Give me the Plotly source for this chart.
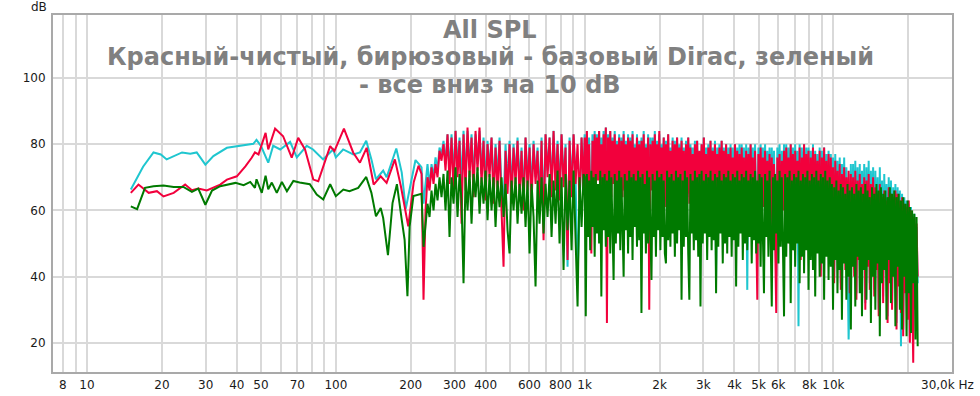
import numpy as np
import plotly.graph_objects as go

# ---------------- data ----------------
# Low-frequency (smooth) part
cyan_low_f = [15, 16.8, 18.5, 19.8, 20.9, 22.3, 24.1, 26, 27.6, 29.9, 32.2, 36.5, 41.3, 46.6, 48, 50,
              53.5, 56, 59.8, 65.5, 69.7, 76.4, 81, 88.9, 97.5, 100, 107, 117.5, 125, 132.5, 139, 145,
              155, 160, 175, 184, 191, 198, 209, 218]
cyan_low_db = [66.3, 73.2, 77.5, 76.9, 75.4, 76.4, 77.5, 77.1, 77.5, 73.8, 76.4, 78.9, 79.6, 80.1, 81.3, 79.5,
               74.4, 79.5, 78.4, 80.7, 76.0, 79.5, 78.4, 75.4, 78.4, 76.0, 78.4, 76.9, 77.5, 81.0, 75.4, 69.4,
               72.0, 70.0, 78.7, 71.5, 60.5, 66.0, 75.2, 73.6]

red_low_f = [15, 16.1, 17.7, 19.1, 20.3, 22.3, 24.8, 26.4, 28, 30.3, 34.3, 36.5, 40, 43.3, 45.9, 47.3,
             48.9, 52.2, 53.5, 57, 61.4, 66.5, 70.6, 75.2, 81.2, 85, 94.9, 98.7, 107.8, 117.4, 125, 133,
             141.9, 151.5, 160, 172.7, 182.6, 190, 195.5, 205.6, 215]
red_low_db = [65.3, 67.8, 65.3, 65.8, 64.2, 65.3, 67.8, 66.1, 66.6, 66.0, 67.8, 69.3, 70.3, 73.3, 75.9, 77.5,
              76.9, 83.4, 78.4, 84.7, 82.4, 75.9, 81.9, 78.4, 69.3, 68.8, 79.4, 77.9, 84.7, 77.5, 74.4, 78.9,
              67.8, 70.3, 68.3, 75.4, 67.3, 60.2, 55.2, 68.5, 73.5]

green_low_f = [15, 15.9, 17.1, 18.5, 20.3, 22.3, 24.4, 26.4, 28, 29.9, 31.8, 34.3, 39.5, 42.6, 45.3, 47.3,
               48, 50.4, 52.2, 53.5, 55.3, 57.9, 60.7, 63.6, 67.5, 71.5, 78.6, 83.8, 89, 94.9, 100, 107.2,
               113.4, 123, 132.5, 139, 145, 151.5, 155, 162, 169, 176, 184, 189, 194, 198, 205, 218]
green_low_db = [61.2, 60.4, 66.8, 67.3, 67.5, 67.1, 67.1, 65.6, 66.6, 61.7, 66.0, 67.3, 68.3, 67.6, 68.6, 66.8,
                69.4, 65.3, 70.5, 66.4, 68.4, 65.3, 68.6, 65.8, 68.9, 68.4, 67.9, 64.8, 63.3, 67.9, 64.3, 66.3,
                65.8, 66.8, 70.1, 65.3, 58.2, 60.7, 57.7, 46.5, 62.2, 67.9, 57.2, 51.1, 34.1, 55.2, 64.3, 64.8]

# Mid band readings (82 per curve), 221 Hz .. 990 Hz
mid_start, mid_stop = 221, 990
red_mid_db = [
    71, 33, 60, 70, 66, 73, 68, 74, 70, 78,
    75, 80, 72, 83, 68, 82, 65, 84, 70, 81,
    56, 83, 66, 85, 70, 82, 64, 84, 72, 85,
    68, 81, 63, 80, 70, 82, 62, 79, 66, 81,
    60, 43, 78, 65, 80, 62, 79, 68, 81, 64,
    78, 60, 82, 66, 79, 62, 80, 68, 78, 59,
    81, 51, 83, 70, 82, 64, 84, 66, 80, 63,
    83, 67, 79, 45, 81, 64, 83, 68, 80, 62,
    82, 65,
]
cyan_mid_db = [
    73, 62, 69, 74, 67, 74, 70, 76, 72, 79,
    77, 81, 74, 83, 72, 83, 70, 84, 73, 82,
    68, 84, 70, 84, 73, 83, 69, 83, 74, 84,
    71, 82, 68, 81, 72, 82, 67, 80, 70, 82,
    66, 62, 80, 68, 81, 66, 80, 70, 82, 68,
    79, 64, 82, 69, 80, 66, 81, 70, 79, 63,
    82, 58, 83, 72, 82, 67, 84, 69, 81, 66,
    83, 69, 80, 43, 82, 67, 83, 70, 40, 65,
    82, 68,
]
green_mid_db = [
    65, 49, 55, 62, 58, 66, 60, 68, 63, 70,
    64, 71, 60, 72, 52, 70, 62, 73, 58, 71,
    63, 38, 70, 60, 72, 56, 71, 64, 73, 59,
    70, 62, 72, 57, 71, 60, 70, 55, 69, 61,
    70, 58, 68, 54, 47, 69, 60, 70, 56, 68,
    59, 70, 55, 69, 47, 68, 58, 37, 69, 56,
    70, 53, 68, 58, 71, 52, 69, 56, 72, 50,
    70, 42, 71, 54, 69, 48, 72, 52, 31, 70,
    55, 71,
]

# High band readings (300 per curve), 1 kHz .. 21.8 kHz
hi_start, hi_stop = 1000, 21800
red_hi_db = [
    82, 66, 84, 68, 80, 64, 47, 81, 67, 83, 65, 82, 69, 84, 63, 80, 66, 83, 68, 85,
    26, 82, 66, 84, 64, 81, 68, 83, 65, 80, 67, 82, 56, 81, 64, 83, 66, 80, 63, 82,
    67, 81, 64, 83, 66, 79, 63, 82, 68, 80, 65, 81, 62, 83, 66, 79, 64, 82, 30, 80,
    66, 81, 63, 83, 67, 80, 62, 84, 65, 79, 64, 82, 61, 80, 66, 83, 63, 78, 65, 81,
    62, 80, 66, 82, 60, 79, 64, 81, 63, 78, 58, 80, 65, 82, 62, 79, 64, 77, 61, 80,
    63, 81, 60, 78, 65, 80, 59, 82, 63, 77, 61, 79, 64, 81, 58, 78, 62, 80, 60, 77,
    64, 79, 57, 81, 62, 78, 60, 80, 55, 77, 63, 79, 59, 76, 61, 80, 56, 78, 62, 77,
    58, 79, 61, 76, 54, 78, 60, 77, 57, 80, 62, 76, 55, 78, 59, 33, 77, 60, 79, 56,
    76, 61, 78, 57, 75, 60, 77, 52, 76, 58, 74, 55, 29, 76, 59, 77, 53, 75, 60, 78,
    55, 79, 58, 76, 50, 80, 57, 77, 48, 78, 59, 75, 53, 79, 45, 76, 56, 80, 51, 77,
    57, 78, 46, 76, 54, 79, 42, 77, 55, 75, 50, 78, 40, 76, 53, 79, 47, 75, 52, 77,
    44, 76, 51, 73, 38, 75, 49, 72, 45, 74, 36, 71, 50, 73, 42, 70, 48, 72, 35, 71,
    46, 70, 40, 72, 33, 69, 45, 71, 38, 68, 48, 70, 30, 69, 43, 71, 36, 68, 44, 70,
    34, 67, 42, 65, 28, 68, 40, 64, 32, 66, 45, 63, 26, 67, 38, 65, 30, 64, 41, 66,
    24, 65, 37, 63, 29, 64, 22, 62, 35, 61, 27, 63, 20, 60, 33, 14, 58, 30, 56, 40,
]
cyan_hi_db = [
    83, 68, 84, 70, 82, 66, 60, 83, 69, 84, 67, 83, 70, 84, 65, 82, 68, 84, 70, 85,
    50, 83, 68, 84, 66, 82, 70, 84, 67, 81, 69, 83, 62, 82, 66, 84, 68, 81, 65, 83,
    69, 82, 66, 84, 68, 80, 65, 83, 70, 81, 67, 82, 64, 84, 68, 80, 66, 83, 45, 82,
    68, 82, 65, 84, 69, 81, 64, 83, 67, 80, 66, 82, 63, 81, 68, 83, 65, 79, 67, 82,
    64, 81, 68, 82, 62, 80, 66, 82, 65, 79, 60, 81, 67, 82, 64, 80, 66, 79, 63, 81,
    65, 81, 62, 52, 67, 80, 61, 82, 65, 79, 63, 80, 66, 81, 60, 79, 64, 81, 40, 79,
    66, 80, 59, 81, 64, 79, 62, 80, 57, 79, 65, 80, 61, 79, 63, 80, 58, 79, 64, 80,
    60, 80, 63, 79, 56, 80, 36, 79, 59, 80, 64, 79, 57, 80, 61, 45, 79, 62, 80, 58,
    79, 63, 80, 59, 78, 62, 79, 55, 79, 60, 78, 57, 40, 79, 61, 80, 55, 78, 62, 80,
    57, 80, 60, 79, 53, 80, 59, 79, 50, 80, 61, 78, 25, 80, 48, 79, 58, 80, 53, 79,
    59, 79, 48, 78, 56, 80, 44, 78, 57, 77, 52, 79, 42, 78, 55, 79, 49, 77, 54, 78,
    46, 77, 53, 76, 40, 77, 51, 75, 47, 76, 38, 74, 52, 76, 44, 73, 50, 21, 37, 74,
    48, 74, 42, 75, 35, 73, 47, 74, 40, 72, 50, 74, 32, 73, 45, 75, 38, 72, 46, 73,
    36, 72, 44, 70, 30, 73, 42, 69, 34, 71, 47, 68, 28, 70, 40, 69, 32, 67, 43, 68,
    26, 67, 39, 66, 19, 65, 24, 64, 37, 63, 29, 62, 22, 61, 35, 30, 59, 32, 55, 38,
]
green_hi_db = [
    70, 28, 71, 52, 69, 48, 72, 55, 70, 46, 71, 53, 68, 50, 72, 34, 70, 54, 71, 49,
    69, 52, 72, 47, 70, 55, 39, 71, 50, 69, 53, 72, 48, 70, 51, 40, 71, 54, 69, 47,
    72, 52, 70, 45, 71, 55, 69, 49, 72, 51, 70, 29, 71, 53, 68, 47, 72, 50, 70, 54,
    39, 71, 52, 69, 46, 72, 54, 70, 48, 71, 52, 69, 47, 44, 72, 51, 70, 49, 71, 53,
    69, 46, 72, 50, 70, 54, 71, 33, 69, 49, 72, 52, 70, 47, 33, 71, 53, 69, 48, 72,
    51, 70, 46, 71, 31, 72, 50, 69, 53, 71, 45, 70, 52, 72, 48, 69, 51, 71, 35, 70,
    49, 72, 53, 69, 44, 71, 50, 70, 47, 72, 52, 69, 46, 71, 51, 70, 37, 72, 49, 69,
    53, 71, 45, 70, 50, 72, 48, 69, 52, 71, 44, 70, 51, 72, 47, 69, 50, 71, 43, 70,
    49, 35, 71, 52, 69, 46, 72, 50, 31, 70, 48, 71, 53, 69, 44, 72, 49, 70, 51, 28,
    71, 46, 70, 50, 72, 32, 69, 48, 71, 43, 70, 50, 72, 38, 69, 46, 71, 41, 70, 48,
    72, 36, 69, 45, 71, 42, 70, 34, 72, 47, 69, 40, 71, 44, 70, 33, 72, 46, 69, 39,
    70, 43, 68, 30, 67, 45, 69, 35, 66, 42, 68, 27, 67, 44, 65, 33, 68, 40, 66, 24,
    67, 43, 65, 31, 68, 46, 66, 35, 67, 28, 65, 42, 68, 33, 66, 45, 64, 26, 67, 40,
    65, 30, 68, 44, 66, 22, 67, 38, 65, 42, 66, 27, 64, 45, 67, 32, 65, 40, 66, 25,
    64, 43, 65, 30, 63, 24, 64, 40, 62, 22, 63, 35, 61, 23, 60, 38, 59, 21, 58, 19,
]

x_tick_vals = [8, 9, 10, 20, 30, 40, 50, 60, 70, 80, 90, 100, 200, 300, 400, 500, 600, 700, 800, 900,
               1000, 2000, 3000, 4000, 5000, 6000, 7000, 8000, 9000, 10000, 20000]
x_tick_text = ["8", "", "10", "20", "30", "40", "50", "", "70", "", "", "100", "200", "300", "400", "",
               "600", "", "800", "", "1k", "2k", "3k", "4k", "5k", "6k", "", "8k", "", "10k", ""]
y_tick_vals = [20, 40, 60, 80, 100]

title_lines = ["All SPL",
               "Красный-чистый, бирюзовый - базовый Dirac, зеленый",
               "- все вниз на 10 dB"]

# ---------------- build ----------------
def full_curve(low_f, low_db, mid_db, hi_db):
    mid_f = np.geomspace(mid_start, mid_stop, len(mid_db))
    hi_f = np.geomspace(hi_start, hi_stop, len(hi_db))
    fx = list(low_f) + list(mid_f) + list(hi_f)
    fy = list(low_db) + list(mid_db) + list(hi_db)
    return fx, fy

series = [
    ("бирюзовый", cyan_low_f, cyan_low_db, cyan_mid_db, cyan_hi_db, "#1fc6cf"),
    ("красный", red_low_f, red_low_db, red_mid_db, red_hi_db, "#f2003c"),
    ("зеленый", green_low_f, green_low_db, green_mid_db, green_hi_db, "#007a00"),
]

fig = go.Figure()
for name, lf, ld, md, hd, col in series:
    fx, fy = full_curve(lf, ld, md, hd)
    fig.add_trace(go.Scatter(x=fx, y=fy, mode="lines", name=name,
                             line=dict(color=col, width=2), showlegend=False))

font_fam = "DejaVu Sans"
title_font = dict(family=font_fam, size=24, color="#808080", weight="bold")
annotations = []
for txt, yp in zip(title_lines, [0.9566, 0.881, 0.8053]):
    annotations.append(dict(text=txt, xref="paper", yref="paper", x=0.4861, y=yp,
                            xanchor="center", yanchor="middle", showarrow=False,
                            font=title_font))
annotations.append(dict(text="dB", xref="paper", yref="paper", x=0, y=1, xshift=-4, yshift=8,
                        xanchor="right", yanchor="middle", showarrow=False,
                        font=dict(family=font_fam, size=12, color="#1a1a1a")))
annotations.append(dict(text="30,0k Hz", xref="paper", yref="paper", x=1, y=0, xshift=-33, yshift=-13,
                        xanchor="left", yanchor="middle", showarrow=False,
                        font=dict(family=font_fam, size=12, color="#1a1a1a")))

fig.update_layout(
    width=980, height=396,
    margin=dict(l=53, r=28, t=15, b=24),
    paper_bgcolor="white", plot_bgcolor="white",
    font=dict(family=font_fam, size=12, color="#1a1a1a"),
    xaxis=dict(type="log", range=[np.log10(7.3), np.log10(29950)],
               tickvals=x_tick_vals, ticktext=x_tick_text, automargin=False,
               showgrid=True, gridcolor="#d9d9d9", gridwidth=1.5,
               showline=True, linecolor="#a9a9a9", linewidth=2, mirror=True,
               ticks="", zeroline=False, ticklabelstandoff=1,
               tickfont=dict(size=12, color="#1a1a1a")),
    yaxis=dict(range=[11.2, 119.0], tickvals=y_tick_vals, automargin=False,
               showgrid=True, gridcolor="#d9d9d9", gridwidth=1.5,
               showline=True, linecolor="#a9a9a9", linewidth=2, mirror=True,
               ticks="", zeroline=False, ticklabelstandoff=3,
               tickfont=dict(size=12, color="#1a1a1a")),
    annotations=annotations,
)

fig.write_html("out.html", config={"displayModeBar": False})

# remove the browser's default page margin so the figure sits at the window origin
with open("out.html", encoding="utf-8") as fh:
    page = fh.read()
page = page.replace("<head>", "<head><style>html,body{margin:0;padding:0;overflow:hidden;}</style>", 1)
with open("out.html", "w", encoding="utf-8") as fh:
    fh.write(page)
